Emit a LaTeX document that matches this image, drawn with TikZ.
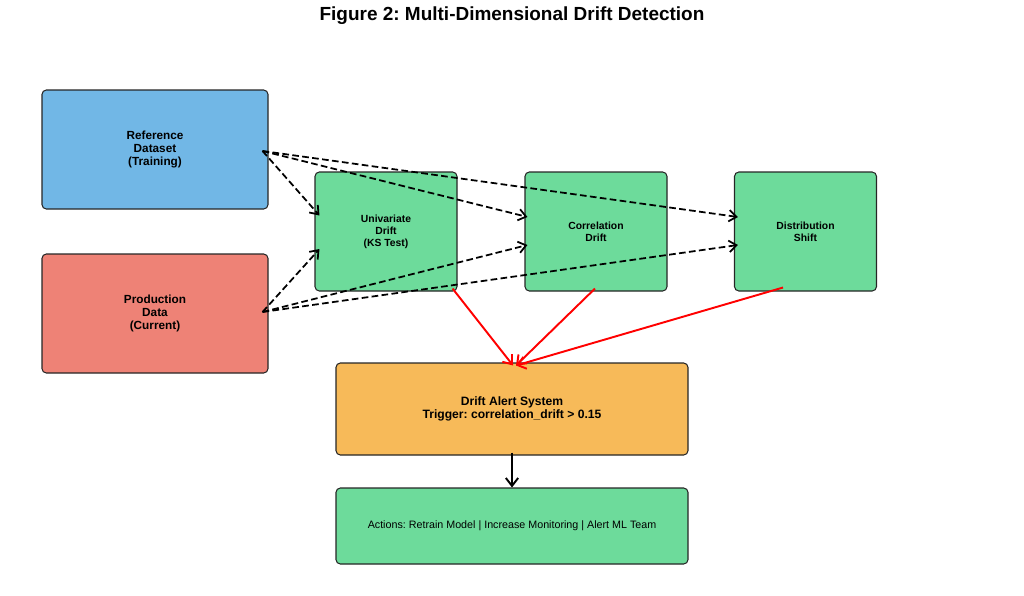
\documentclass[tikz,border=0pt]{standalone}
\usepackage{fontspec}
\setmainfont{Liberation Sans}
\usepackage{tikz}
\usetikzlibrary{arrows.meta, positioning, calc}
\definecolor{refblue}{RGB}{113, 183, 230}
\definecolor{prodred}{RGB}{238, 130, 118}
\definecolor{driftgreen}{RGB}{109, 219, 155}
\definecolor{alertorange}{RGB}{247, 186, 89}
\newdimen\pxu
\pxu=0.02cm
\frenchspacing

\begin{document}
\begin{tikzpicture}[
    x=0.02cm, y=-0.02cm,
    box/.style={draw=black!85, line width=0.6pt, rounded corners=2.5pt, align=center,
        font=\fontsize{6.7}{7.4}\selectfont\bfseries, inner sep=0pt},
    databox/.style={box, minimum width=226\pxu, minimum height=119\pxu},
    checkbox/.style={box, fill=driftgreen, minimum width=142\pxu, minimum height=119\pxu,
        font=\fontsize{5.9}{6.8}\selectfont\bfseries},
    widebox/.style={box, minimum width=352\pxu},
    feed/.style={dashed, dash pattern=on 3.8pt off 1.9pt, line width=1pt,
        -{Straight Barb[length=4.3pt, width=6.5pt]}},
    alarm/.style={red, line width=1.1pt, -{Straight Barb[length=4.5pt, width=7pt]}}
]
    \useasboundingbox (0,0) rectangle (1024,595);

    % Title
    \node[font=\fontsize{10.8}{12}\selectfont\bfseries] (title) at (512, 16) {Figure 2: Multi-Dimensional Drift Detection};

    % Input datasets
    \node[databox, fill=refblue] (ref) at (155, 149.5) {Reference\\Dataset\\(Training)};
    \node[databox, fill=prodred] (prod) at (155, 313.5) {Production\\Data\\(Current)};

    % Drift checks
    \node[checkbox] (uni) at (386, 231.5) {Univariate\\Drift\\(KS Test)};
    \node[checkbox] (corr) at (596, 231.5) {Correlation\\Drift};
    \node[checkbox] (dist) at (805.5, 231.5) {Distribution\\Shift};

    % Alert and actions
    \node[widebox, fill=alertorange, minimum height=92\pxu, font=\fontsize{6.9}{7.5}\selectfont\bfseries] (alert) at (512, 409)
        {Drift Alert System\\Trigger: correlation\_drift > 0.15};
    \node[widebox, fill=driftgreen, minimum height=76\pxu, font=\fontsize{6.1}{7}\selectfont] (act) at (512, 526)
        {Actions: Retrain Model | Increase Monitoring | Alert ML Team};

    % Ports on the data boxes
    \coordinate (refport) at ($(ref.east)+(-6,1.5)$);
    \coordinate (prodport) at ($(prod.east)+(-6,-1.5)$);

    % Reference -> checks
    \draw[feed] (refport) -- ($(uni.west)+(5,-16)$);
    \draw[feed] (refport) -- ($(corr.west)+(3,-14.5)$);
    \draw[feed] (refport) -- ($(dist.west)+(4,-14.5)$);

    % Production -> checks
    \draw[feed] (prodport) -- ($(uni.west)+(5,17.5)$);
    \draw[feed] (prodport) -- ($(corr.west)+(3,13.5)$);
    \draw[feed] (prodport) -- ($(dist.west)+(4,13.5)$);

    % Checks -> alert
    \draw[alarm] ($(uni.south east)+(-5,-3)$) -- ($(alert.north)+(1,3)$);
    \draw[alarm] ($(corr.south)+(-1,-3)$) -- ($(alert.north)+(4,3)$);
    \draw[alarm] ($(dist.south)+(-22.5,-4)$) -- ($(alert.north)+(4,3)$);

    % Alert -> actions
    \draw[line width=1.1pt, -{Straight Barb[length=4.5pt, width=7pt]}] ($(alert.south)+(0,-3)$) -- (act.north);

\end{tikzpicture}
\end{document}
